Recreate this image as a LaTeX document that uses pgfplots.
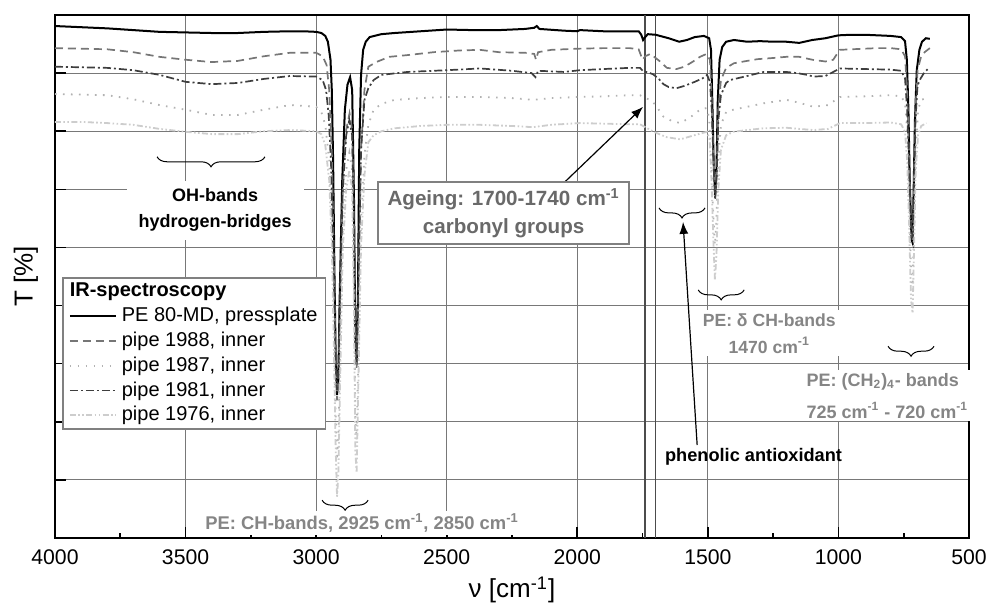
\documentclass[border=0pt]{standalone}
\usepackage{fontspec}
\setmainfont{Liberation Sans}
\usepackage{pgfplots}
\pgfplotsset{compat=1.18}
\usetikzlibrary{decorations.pathreplacing, arrows.meta}

\definecolor{c88}{RGB}{118,118,118}
\definecolor{c87}{RGB}{178,178,178}
\definecolor{c81}{RGB}{62,62,62}
\definecolor{c76}{RGB}{205,205,205}
\definecolor{pegray}{RGB}{133,133,133}
\definecolor{agegray}{RGB}{105,105,105}
\definecolor{gridgray}{RGB}{120,120,120}

\begin{document}
\begin{tikzpicture}
\begin{axis}[
  scale only axis, width=457pt, height=261.5pt,
  x dir=reverse, xmin=500, xmax=4000, ymin=0, ymax=90,
  xtick={500,1000,...,4000}, minor x tick num=1,
  ytick={0,10,...,90}, yticklabels={},
  tick pos=left, tick align=inside,
  major tick length=5.5pt, minor tick length=2.5pt,
  every tick/.style={black, line width=0.8pt},
  grid=major, major grid style={gridgray, line width=0.5pt},
  axis line style={line width=1pt},
  extra x ticks={1740,1700}, extra x tick labels={},
  extra x tick style={xmajorgrids=true, major tick length=0pt,
    major grid style={black!70, line width=0.7pt}},
  xticklabel style={font=\fontsize{10.6}{12}\selectfont, /pgf/number format/1000 sep={}, yshift=-2.5pt},
  /pgf/number format/assume math mode=true,
  xlabel={ν [cm\textsuperscript{-1}]},
  ylabel={T [\%]},
  xlabel style={at={(axis description cs:0.5,-0.0994)}, anchor=center, font=\fontsize{13}{15}\selectfont},
  ylabel style={at={(axis description cs:-0.0317,0.5)}, anchor=center, font=\fontsize{13}{15}\selectfont},
  legend style={at={(axis description cs:0.0077,0.499)}, anchor=north west,
    draw=gray, line width=0.8pt, font=\fontsize{10}{12}\selectfont,
    inner xsep=3pt, inner ysep=1pt, column sep=1.5pt, row sep=0.9pt,
    nodes={inner sep=1pt, text height=7.5pt, text depth=2pt}},
  legend cell align=left,
  legend image code/.code={\draw[#1] (0pt,0pt) -- (23pt,0pt);},
  clip=false,
]
\addlegendimage{empty legend}
\addlegendentry{\hspace*{-26pt}\textbf{IR-spectroscopy}}

% PE 80-MD, pressplate
\addplot[black, line width=1pt] coordinates {
(4000,88.1)(3900,87.9)(3800,87.7)(3700,87.4)(3600,87.1)(3500,87.0)(3400,86.9)(3300,86.9)
(3200,87.1)(3100,87.2)(3050,87.2)(3000,87.1)(2980,86.9)(2965,86.4)(2955,85.4)(2945,82.3)
(2940,77.1)(2935,65.0)(2930,46.1)(2925,30.6)(2920,24.6)(2915,27.2)(2910,41.0)(2900,61.6)
(2890,73.7)(2880,78.0)(2870,79.3)(2862,77.1)(2855,58.2)(2850,34.1)(2845,29.8)(2840,41.0)
(2835,66.8)(2828,79.7)(2820,84.0)(2810,85.4)(2795,86.2)(2750,86.7)(2700,86.9)(2600,87.2)
(2500,87.5)(2400,87.4)(2300,87.4)(2200,87.6)(2165,87.8)(2155,88.1)(2145,87.6)(2050,87.3)
(2000,87.2)(1990,87.4)(1900,87.2)(1800,87.2)(1765,87.2)(1755,86.6)(1748,85.7)(1740,86.2)
(1730,86.7)(1700,86.6)(1650,86.0)(1610,85.4)(1580,85.7)(1550,86.2)(1515,86.4)(1495,86.0)
(1488,84.0)(1483,75.4)(1478,65.0)(1472,59.0)(1467,63.3)(1462,75.4)(1455,82.3)(1445,84.5)
(1430,85.4)(1400,85.7)(1350,85.4)(1300,85.5)(1250,85.4)(1200,85.4)(1150,85.2)(1100,85.7)
(1050,86.0)(1000,86.5)(950,86.6)(900,86.6)(850,86.5)(800,86.4)(760,86.2)(745,85.5)
(738,82.3)(732,73.7)(727,61.6)(720,51.3)(716,50.8)(712,59.9)(707,71.9)(700,80.5)
(690,84.0)(680,85.4)(665,86.0)(650,85.9)
};
\addlegendentry{PE 80-MD, pressplate}

% pipe 1988, inner
\addplot[c88, line width=0.85pt, dash pattern=on 4pt off 2.5pt] coordinates {
(4000,84.3)(3900,84.2)(3800,84.1)(3700,83.6)(3600,82.8)(3500,82.3)(3400,81.9)(3300,82.1)
(3200,82.9)(3100,83.5)(3000,83.5)(2975,82.9)(2960,81.4)(2950,77.1)(2940,66.8)(2932,47.8)
(2925,30.6)(2920,23.7)(2915,26.3)(2908,41.0)(2898,59.9)(2885,70.2)(2872,73.1)(2862,70.2)
(2855,53.0)(2850,32.4)(2845,29.3)(2838,42.7)(2828,66.8)(2815,77.1)(2800,81.1)(2770,81.9)
(2720,82.8)(2650,83.1)(2550,83.6)(2450,83.9)(2372,84.0)(2300,83.6)(2200,83.5)(2165,83.3)
(2158,82.3)(2150,83.6)(2100,84.0)(2000,84.2)(1900,84.3)(1800,84.3)(1765,84.1)(1750,82.3)
(1740,82.9)(1720,83.3)(1700,82.6)(1680,81.9)(1657,80.9)(1620,80.7)(1590,81.1)(1560,81.9)
(1530,82.8)(1505,83.3)(1492,82.3)(1485,75.4)(1478,65.0)(1472,59.9)(1466,64.1)(1460,73.7)
(1450,78.8)(1430,80.9)(1400,81.7)(1350,82.1)(1310,82.4)(1250,82.6)(1200,82.8)(1150,82.8)
(1100,82.3)(1050,82.0)(1020,82.3)(995,84.0)(950,84.1)(900,84.2)(850,84.3)(800,84.3)
(760,84.1)(745,82.9)(737,77.1)(730,66.8)(722,53.9)(716,51.3)(711,60.7)(705,73.7)
(697,80.5)(685,82.6)(670,83.6)(650,84.3)
};
\addlegendentry{pipe 1988, inner}

% pipe 1987, inner
\addplot[c87, line width=0.9pt, dash pattern=on 0.8pt off 3.2pt] coordinates {
(4000,76.4)(3900,76.3)(3800,76.2)(3700,75.5)(3600,74.5)(3500,73.7)(3400,72.8)(3300,72.8)
(3200,73.7)(3100,74.5)(3000,74.2)(2980,73.3)(2965,71.1)(2950,65.0)(2940,54.7)(2932,37.5)
(2925,20.3)(2920,13.4)(2915,16.9)(2908,32.4)(2898,53.0)(2885,63.3)(2873,66.3)(2862,63.3)
(2855,44.4)(2850,21.2)(2845,16.9)(2838,32.4)(2828,54.7)(2815,65.9)(2800,71.1)(2780,73.7)
(2750,74.7)(2700,75.4)(2600,75.7)(2500,75.9)(2372,75.9)(2250,75.7)(2170,75.4)(2100,75.7)
(1990,75.9)(1900,76.0)(1800,76.2)(1760,76.2)(1740,75.7)(1720,75.4)(1700,74.5)(1670,72.5)
(1640,71.8)(1606,71.4)(1570,72.3)(1530,73.7)(1505,74.0)(1495,72.3)(1487,65.0)(1480,56.4)
(1473,50.4)(1467,54.7)(1460,65.0)(1450,71.1)(1430,73.3)(1403,73.7)(1350,74.2)(1287,74.8)
(1200,75.4)(1150,74.9)(1096,74.2)(1040,74.5)(994,75.9)(900,76.0)(800,76.2)(760,76.0)
(745,74.9)(737,70.2)(730,59.9)(722,46.1)(716,42.7)(711,53.0)(704,66.8)(695,73.7)
(683,75.4)(663,75.7)
};
\addlegendentry{pipe 1987, inner}

% pipe 1981, inner
\addplot[c81, line width=0.85pt, dash pattern=on 4pt off 1.5pt on 1pt off 1.5pt] coordinates {
(4000,81.1)(3900,81.0)(3800,80.9)(3700,80.5)(3600,79.7)(3500,78.5)(3400,78.1)(3300,78.3)
(3200,79.0)(3100,79.5)(3000,79.4)(2975,78.8)(2962,77.1)(2952,72.8)(2942,63.3)(2933,46.1)
(2925,30.6)(2920,25.5)(2915,28.0)(2908,42.7)(2898,59.9)(2885,69.3)(2873,71.9)(2862,69.3)
(2855,53.0)(2850,33.2)(2845,30.3)(2838,44.4)(2828,66.8)(2815,75.4)(2800,77.4)(2780,78.8)
(2750,79.7)(2650,80.2)(2500,80.5)(2372,80.8)(2250,80.4)(2175,80.0)(2160,79.3)(2150,80.4)
(2050,80.2)(1990,80.5)(1900,80.7)(1800,80.9)(1760,80.9)(1745,80.2)(1733,80.2)(1710,79.8)
(1690,79.1)(1670,78.1)(1650,77.6)(1620,77.4)(1590,77.8)(1550,78.5)(1520,79.1)(1503,79.7)
(1492,78.5)(1485,73.7)(1478,64.2)(1472,58.2)(1466,62.4)(1460,71.9)(1450,76.2)(1430,78.3)
(1416,78.8)(1350,79.5)(1287,80.2)(1200,80.2)(1158,80.0)(1120,79.7)(1096,79.4)(1050,79.5)
(994,80.8)(900,80.7)(800,80.6)(760,80.4)(745,79.1)(737,73.7)(730,65.0)(722,53.9)
(716,51.6)(711,59.9)(705,71.9)(697,77.9)(685,79.1)(670,80.2)(650,81.0)
};
\addlegendentry{pipe 1981, inner}

% pipe 1976, inner
\addplot[c76, line width=0.9pt, dash pattern=on 3pt off 1.2pt on 0.8pt off 1.2pt on 0.8pt off 1.2pt] coordinates {
(4000,71.6)(3900,71.6)(3800,71.4)(3700,71.1)(3600,70.4)(3500,69.9)(3400,69.5)(3300,69.5)
(3200,70.0)(3100,70.2)(3000,70.0)(2980,69.5)(2965,67.6)(2950,61.6)(2940,50.4)(2932,32.4)
(2925,15.1)(2920,7.1)(2915,10.8)(2908,27.2)(2898,49.6)(2885,59.9)(2873,63.3)(2862,59.9)
(2855,39.2)(2850,15.1)(2845,11.2)(2838,27.2)(2828,50.4)(2815,62.5)(2800,68.1)(2780,69.3)
(2750,70.0)(2700,70.5)(2600,70.9)(2500,71.1)(2372,71.1)(2250,70.9)(2170,70.7)(2100,71.1)
(1990,71.4)(1900,71.3)(1800,71.2)(1760,71.2)(1740,70.7)(1707,69.9)(1660,69.0)(1606,68.6)
(1560,69.2)(1520,69.7)(1503,69.9)(1493,68.5)(1486,61.6)(1479,51.3)(1473,44.4)(1467,48.7)
(1460,59.9)(1450,66.8)(1430,69.3)(1403,69.9)(1350,70.2)(1287,70.5)(1200,70.6)(1150,70.4)
(1096,70.2)(1040,70.4)(994,71.4)(900,71.4)(800,71.5)(760,71.2)(745,69.9)(737,65.0)
(730,54.7)(722,41.0)(716,38.7)(711,48.7)(704,63.3)(695,69.3)(683,70.9)(663,71.4)
};
\addlegendentry{pipe 1976, inner}

% annotations
\draw[decorate, decoration={brace, amplitude=5pt}, line width=0.5pt] (axis cs:3196,65.6) -- (axis cs:3609,65.6);
\node[fill=white, font=\fontsize{9}{13}\selectfont\bfseries, align=center, inner xsep=6pt, inner ysep=4pt]
  at (axis cs:3387,56.4) {OH-bands\\hydrogen-bridges};

\draw[-{Latex[length=6pt,width=4.5pt]}, line width=0.6pt] (axis cs:2047,61.3) -- (axis cs:1748,74.2);
\node[draw=gray, line width=0.8pt, fill=white, text=agegray, font=\fontsize{10.3}{14}\selectfont\bfseries,
  align=center, minimum width=125.5pt, minimum height=31pt, inner sep=2pt]
  at (axis cs:2282,55.9) {Ageing: 1700-1740 cm\textsuperscript{-1}\\carbonyl groups};

\draw[decorate, decoration={brace, amplitude=5pt}, line width=0.5pt] (axis cs:1511,56.8) -- (axis cs:1687,56.8);
\draw[-{Latex[length=6pt,width=4.5pt]}, line width=0.6pt] (axis cs:1541,16.0) -- (axis cs:1595,54.4);
\node[font=\fontsize{9.1}{11}\selectfont\bfseries] at (axis cs:1325,13.9) {phenolic antioxidant};

\draw[decorate, decoration={brace, amplitude=5pt}, line width=0.5pt] (axis cs:1361,42.7) -- (axis cs:1537,42.7);
\node[fill=white, text=pegray, font=\fontsize{8.8}{13.5}\selectfont\bfseries, align=center, inner sep=1.5pt]
  at (axis cs:1265,35.2) {PE: δ CH-bands\\1470 cm\textsuperscript{-1}};

\draw[decorate, decoration={brace, amplitude=5pt}, line width=0.5pt] (axis cs:634,33.0) -- (axis cs:810,33.0);
\node[fill=white, text=pegray, font=\fontsize{9}{16}\selectfont\bfseries, align=left, anchor=west, inner sep=1.5pt]
  at (axis cs:1135,24.5) {PE: (CH\textsubscript{2})\textsubscript{4}- bands\\725 cm\textsuperscript{-1} - 720 cm\textsuperscript{-1}};

\draw[decorate, decoration={brace, amplitude=5pt}, line width=0.5pt] (axis cs:2801,6.5) -- (axis cs:2977,6.5);
\node[fill=white, text=pegray, font=\fontsize{9.2}{11}\selectfont\bfseries, inner xsep=1.5pt, inner ysep=1pt]
  at (axis cs:2824,2.6) {PE: CH-bands, 2925 cm\textsuperscript{-1}, 2850 cm\textsuperscript{-1}};
\end{axis}
\pgfresetboundingbox
\path ([shift={(-27.5pt,-33.5pt)}]current axis.south west) rectangle ([shift={(9pt,7.5pt)}]current axis.north east);
\end{tikzpicture}
\end{document}
